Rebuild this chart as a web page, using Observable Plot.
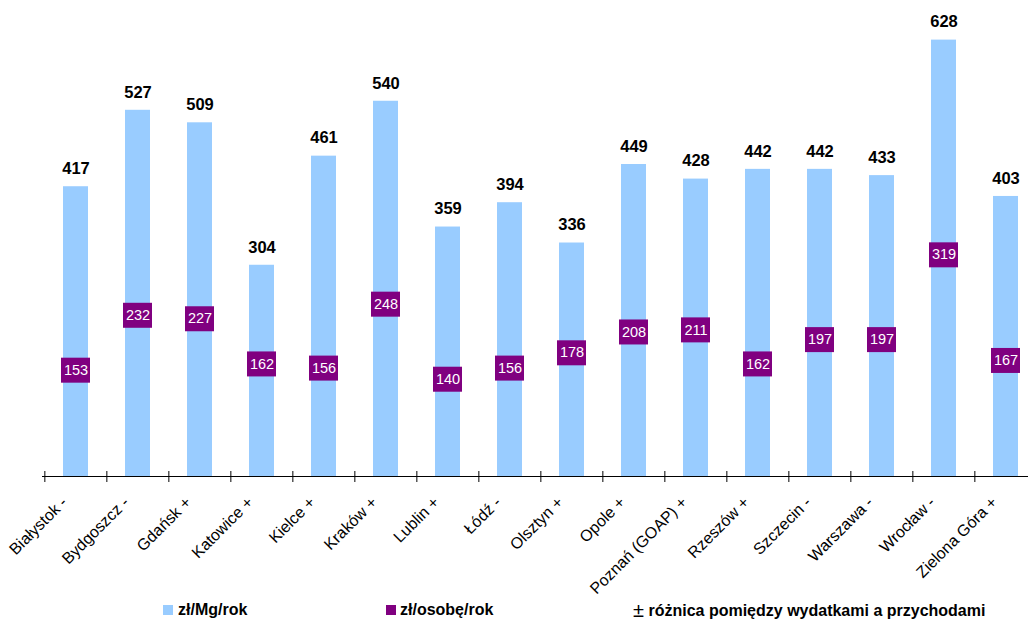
<!DOCTYPE html>
<html>
<head>
<meta charset="utf-8">
<script src="https://cdn.jsdelivr.net/npm/d3@7"></script>
<script src="https://cdn.jsdelivr.net/npm/@observablehq/plot@0.6"></script>
<style>
  body { margin: 0; background: #fff; font-family: "Liberation Sans", Arial, sans-serif; }
  #wrap { position: relative; width: 1028px; height: 621px; overflow: hidden; }
  #wrap svg { position: absolute; left: 0; top: 0; }
  .leg { position: absolute; font-weight: bold; font-size: 16px; color: #000; white-space: nowrap; line-height: 16px; }
  .pm { font-size: 20px; font-weight: normal; vertical-align: -1px; }
  .sw { position: absolute; width: 10px; height: 10px; }
</style>
</head>
<body>
<div id="wrap"></div>
<script>
const cities = ["Białystok -","Bydgoszcz -","Gdańsk +","Katowice +","Kielce +","Kraków +","Lublin +","Łódź -","Olsztyn +","Opole +","Poznań (GOAP) +","Rzeszów +","Szczecin -","Warszawa -","Wrocław -","Zielona Góra +"];
const perMg = [417,527,509,304,461,540,359,394,336,449,428,442,442,433,628,403];
const perPerson = [153,232,227,162,156,248,140,156,178,208,211,162,197,197,319,167];
const legendLabels = ["zł/Mg/rok", "zł/osobę/rok", "różnica pomiędzy wydatkami a przychodami"];

const blue = "#99CCFF", purple = "#800080";
const data = cities.map((c, i) => ({city: c, mg: perMg[i], person: perPerson[i]}));

const W = 1028, H = 621, left = 42, right = 1038.8, base = 476;
const step = (right - left) / cities.length;
const font = "Liberation Sans, Arial, sans-serif";

const chart = Plot.plot({
  width: W, height: H,
  marginTop: 0, marginLeft: left, marginRight: W - right, marginBottom: H - base,
  style: {fontFamily: font, background: "white", overflow: "hidden"},
  x: {domain: cities, paddingInner: 0.6, paddingOuter: 0.3, axis: null},
  y: {domain: [0, 685], axis: null},
  marks: [
    Plot.barY(data, {x: "city", y: "mg", fill: blue}),
    Plot.ruleY([0], {stroke: "black", strokeWidth: 1.2}),
    Plot.ruleX(cities, {x: d => d, dx: -step / 2, stroke: "black", insetTop: base - 5, insetBottom: -6}),
    Plot.ruleX(cities.slice(-1), {x: d => d, dx: step / 2, stroke: "black", insetTop: base - 5, insetBottom: -6}),
    Plot.tickY(data, {x: "city", y: "person", stroke: purple, strokeWidth: 25, insetLeft: -2, insetRight: -2}),
    Plot.text(data, {x: "city", y: "person", text: d => String(d.person), fill: "white", fontSize: 14.5}),
    Plot.text(data, {x: "city", y: "mg", text: d => String(d.mg), dy: -18, fontSize: 16.5, fontWeight: "bold", fill: "black"}),
    Plot.text(cities, {x: d => d, frameAnchor: "bottom", text: d => d, rotate: -45, textAnchor: "end", dx: -8, dy: 27, fontSize: 16, fill: "black"})
  ]
});
const wrap = document.getElementById("wrap");
wrap.appendChild(chart);

function sw(x, y, color) {
  const d = document.createElement("div"); d.className = "sw";
  d.style.left = x + "px"; d.style.top = y + "px"; d.style.background = color; wrap.appendChild(d);
}
function lab(x, y, t, pm) {
  const d = document.createElement("div"); d.className = "leg";
  d.style.left = x + "px"; d.style.top = y + "px";
  if (pm) { const s = document.createElement("span"); s.className = "pm"; s.textContent = "±"; d.appendChild(s); d.appendChild(document.createTextNode(" " + t)); }
  else d.textContent = t;
  wrap.appendChild(d);
}
sw(163, 605, blue); lab(178, 602, legendLabels[0]);
sw(386, 605, purple); lab(400, 602, legendLabels[1]);
lab(633, 602, legendLabels[2], true);
</script>
</body>
</html>
